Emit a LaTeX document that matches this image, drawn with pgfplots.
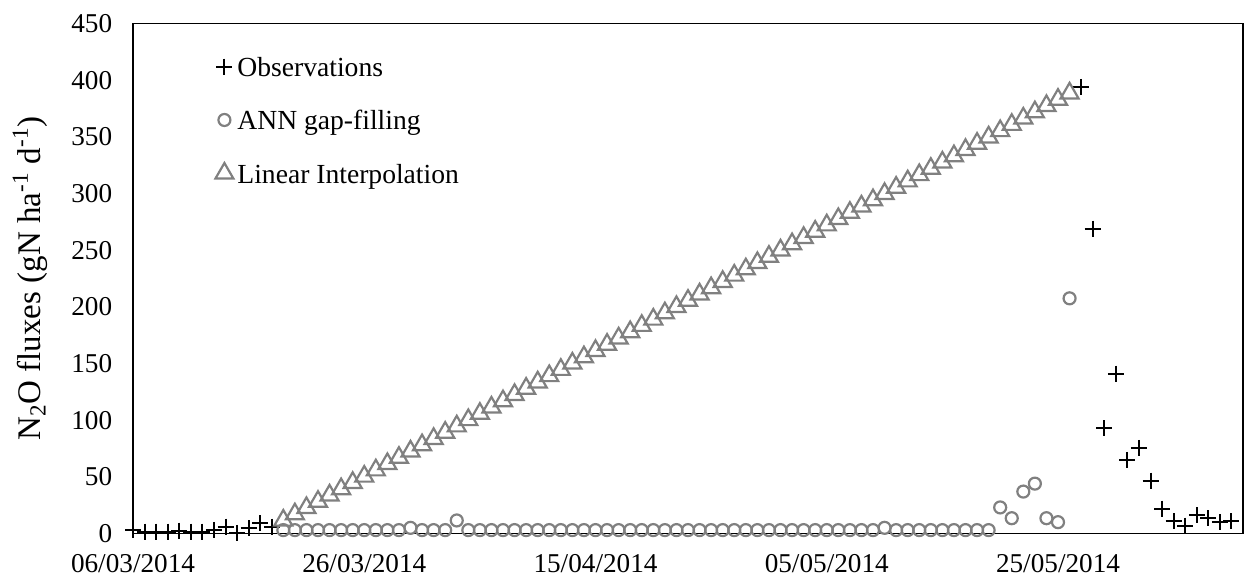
\documentclass[border=0pt]{standalone}
\usepackage{fontspec}
\setmainfont{Liberation Serif}
\usepackage{pgfplots}
\pgfplotsset{compat=1.18}
\definecolor{mkgray}{RGB}{128,128,128}
\begin{document}
\begin{tikzpicture}
\begin{axis}[
  at={(0pt,0pt)}, anchor=south west,
  width=555pt, height=255pt, scale only axis,
  set layers, clip=false,
  xmin=0, xmax=96, ymin=0, ymax=450,
  xtick={0,20,40,60,80},
  xticklabels={06/03/2014,26/03/2014,15/04/2014,05/05/2014,25/05/2014},
  ytick={0,50,...,450},
  major tick length=0pt,
  axis line style={black, line width=0.9pt},
  tick label style={font=\fontsize{13.6}{16}\selectfont},
  /pgf/number format/assume math mode=true,
  yticklabel style={xshift=-6.9pt},
  xticklabel style={yshift=-7pt},
  ylabel={N\textsubscript{2}O fluxes (gN ha\textsuperscript{-1} d\textsuperscript{-1})},
  every axis y label/.style={at={(axis description cs:-0.0928,0.5)}, rotate=90, anchor=center, font=\fontsize{16.5}{19}\selectfont},
  legend style={at={(axis description cs:0.0775,0.8108)}, anchor=west, draw=none, fill=none, inner sep=0pt, row sep=10pt, font=\fontsize{13.8}{16}\selectfont},
  legend cell align=left,
  legend image code/.code={\path[draw=none,fill=none] (-2.5pt,-3pt) rectangle (4.5pt,3pt); \draw[#1,overlay] plot coordinates {(0pt,0pt)};},
]
\addplot[only marks, mark=+, mark size=4pt, draw=black, line width=1pt] coordinates {
(0,3.1) (1,1.6) (2,1.6) (3,1.6) (4,2.5) (5,1.6) (6,1.6) (7,3.1) (8,6) (9,0.5) (10,4.6) (11,9) (12,6)
(82,394) (83,269) (84,93) (85,141) (86,65) (87,75.5) (88,46.7) (89,22) (90,10.8) (91,7) (92,16) (93,13.5) (94,10) (95,10.8)
};
\addlegendentry{\strut Observations}
\addplot[only marks, mark=o, mark size=3pt, draw=mkgray, line width=1.1pt, mark options={fill=white}] coordinates {
(13,3) (14,3) (15,3) (16,3) (17,3) (18,3) (19,3) (20,3) (21,3) (22,3) (23,3) (24,5) (25,3) (26,3) (27,3) (28,11.5)
(29,3) (30,3) (31,3) (32,3) (33,3) (34,3) (35,3) (36,3) (37,3) (38,3) (39,3) (40,3) (41,3) (42,3) (43,3) (44,3)
(45,3) (46,3) (47,3) (48,3) (49,3) (50,3) (51,3) (52,3) (53,3) (54,3) (55,3) (56,3) (57,3) (58,3) (59,3) (60,3)
(61,3) (62,3) (63,3) (64,3) (65,5) (66,3) (67,3) (68,3) (69,3) (70,3) (71,3) (72,3) (73,3) (74,3)
(75,23) (76,13.5) (77,37) (78,44) (79,13.5) (80,10) (81,207.5)
};
\addlegendentry{\strut ANN gap-filling}
\addplot[only marks, mark=triangle, mark size=5.2pt, draw=mkgray, line width=1.1pt, mark options={fill=white}] coordinates {
(13,11.54) (14,17.09) (15,22.63) (16,28.17) (17,33.71) (18,39.26) (19,44.80) (20,50.34) (21,55.89) (22,61.43)
(23,66.97) (24,72.51) (25,78.06) (26,83.60) (27,89.14) (28,94.69) (29,100.23) (30,105.77) (31,111.31) (32,116.86)
(33,122.40) (34,127.94) (35,133.49) (36,139.03) (37,144.57) (38,150.11) (39,155.66) (40,161.20) (41,166.74) (42,172.29)
(43,177.83) (44,183.37) (45,188.91) (46,194.46) (47,200.00) (48,205.54) (49,211.09) (50,216.63) (51,222.17) (52,227.71)
(53,233.26) (54,238.80) (55,244.34) (56,249.89) (57,255.43) (58,260.97) (59,266.51) (60,272.06) (61,277.60) (62,283.14)
(63,288.69) (64,294.23) (65,299.77) (66,305.31) (67,310.86) (68,316.40) (69,321.94) (70,327.49) (71,333.03) (72,338.57)
(73,344.11) (74,349.66) (75,355.20) (76,360.74) (77,366.29) (78,371.83) (79,377.37) (80,382.91) (81,388.46)
};
\addlegendentry{\strut Linear Interpolation}
\end{axis}
\pgfresetboundingbox
\path (-66.5pt,-23.25pt) rectangle (555.5pt,266.75pt);
\end{tikzpicture}
\end{document}
